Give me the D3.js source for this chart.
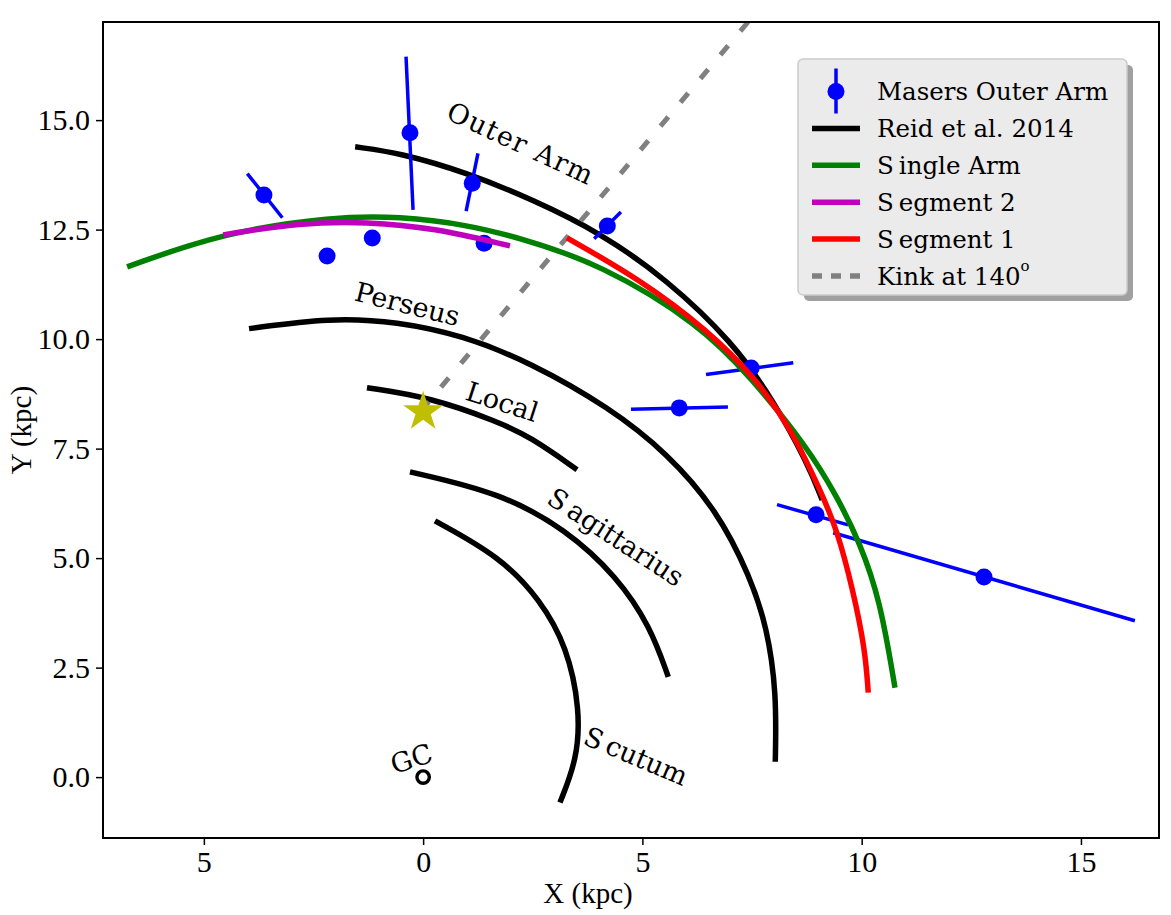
<!DOCTYPE html>
<html><head><meta charset="utf-8">
<script src="https://cdn.jsdelivr.net/npm/d3@7"></script>
<style>body{margin:0;background:#fff;} svg{display:block;}</style>
</head><body><svg id="c" width="1171" height="915"></svg>
<script>
// ---------------- data (kpc) ----------------
const xTicks = [-5, 0, 5, 10, 15];
const xTickLabels = ["5", "0", "5", "10", "15"];
const yTicks = [0, 2.5, 5, 7.5, 10, 12.5, 15];
const yTickLabels = ["0.0", "2.5", "5.0", "7.5", "10.0", "12.5", "15.0"];

// Reid et al. 2014 arms
const outerArm = [[-1.55,14.39],[-0.52,14.25],[1.00,13.80],[2.51,13.18],[4.04,12.43],[5.56,11.36],[7.07,9.92],[7.98,8.61],[8.76,7.18],[9.10,6.33]];
const perseusArm = [[-3.97,10.24],[-2.12,10.49],[-0.59,10.40],[0.91,10.08],[2.44,9.47],[4.26,8.43],[5.56,7.40],[6.70,6.10],[7.46,4.57],[7.84,3.43],[8.06,1.93],[8.03,0.35]];
const localArm = [[-1.28,8.89],[0.16,8.67],[1.69,8.12],[2.44,7.77],[3.51,7.02]];
const sagittariusArm = [[-0.30,6.97],[1.76,6.49],[3.25,5.66],[4.42,4.58],[5.18,3.44],[5.59,2.29]];
const scutumArm = [[0.27,5.85],[1.76,5.03],[2.67,4.05],[3.28,2.98],[3.58,1.54],[3.51,0.40],[3.12,-0.58]];

// fits
const singleArm = [[-6.75,11.65],[-4.56,12.43],[-2.05,12.80],[-0.52,12.80],[1.00,12.61],[2.21,12.31],[4.04,11.72],[6.32,10.33],[7.46,9.14],[8.76,7.54],[9.44,6.40],[9.96,5.35],[10.42,4.05],[10.76,2.04]];
const segment2 = [[-4.56,12.38],[-2.80,12.66],[-1.28,12.68],[0.23,12.54],[1.98,12.13]];
const segment1 = [[3.28,12.31],[4.95,11.36],[6.48,10.21],[7.62,9.07],[8.44,7.86],[9.05,6.56],[9.44,5.65],[9.80,4.28],[10.08,2.91],[10.15,1.93]];

// kink line (top end -> near Sun)
const kinkLine = [[7.41,17.24],[0.0,8.42]];

// masers: position and error-bar end points
const maserX  = [-3.63, -2.19, -1.16, -0.30, 1.12, 1.39, 4.20, 5.84, 7.48, 8.96, 12.79];
const maserY  = [13.29, 11.90, 12.31, 14.71, 13.56, 12.19, 12.58, 8.43, 9.34, 5.99, 4.57];
const errX1   = [-4.01, -2.22, -1.18, -0.39, 1.25, 1.40, 4.51, 4.74, 6.45, 8.07, 9.35];
const errY1   = [13.78, 11.95, 12.42, 16.45, 14.24, 12.25, 12.90, 8.40, 9.19, 6.22, 5.58];
const errX2   = [-3.21, -2.16, -1.14, -0.23, 0.98, 1.38, 3.90, 6.95, 8.44, 9.69, 16.23];
const errY2   = [12.77, 11.85, 12.20, 12.95, 12.92, 12.13, 12.29, 8.45, 9.46, 5.76, 3.57];

const sun = [0, 8.34];
const gc = [0, 0];

const armLabels = ["Outer Arm", "Perseus", "Local", "Sagittarius", "Scutum", "GC"];
const armLabelX = [2.23, -0.36, 1.80, 4.40, 4.86, -0.27];
const armLabelY = [14.47, 10.80, 8.57, 5.49, 0.49, 0.42];
const armLabelAngle = [25, 14, 18, 33, 23, -18];

const legendLabels = ["Masers Outer Arm", "Reid et al. 2014", "Single Arm", "Segment 2", "Segment 1", "Kink at 140"];

// ---------------- layout ----------------
const W = 1171, H = 915;
const margin = {left: 103, right: 12, top: 22, bottom: 77};
const svg = d3.select("#c");
const x = d3.scaleLinear().domain([-7.30, 16.78]).range([margin.left, W - margin.right]);
const y = d3.scaleLinear().domain([-1.39, 17.24]).range([H - margin.bottom, margin.top]);

const tickFont = "'Liberation Serif', 'Times New Roman', serif";
const textFont = "'DejaVu Serif', serif";

svg.append("defs").append("clipPath").attr("id", "clip")
  .append("rect").attr("x", margin.left).attr("y", margin.top)
  .attr("width", W - margin.left - margin.right).attr("height", H - margin.top - margin.bottom);

const plot = svg.append("g").attr("clip-path", "url(#clip)");
const line = d3.line().x(d => x(d[0])).y(d => y(d[1])).curve(d3.curveBasis);

// Reid arms
[outerArm, perseusArm, localArm, sagittariusArm, scutumArm].forEach(a => {
  plot.append("path").attr("d", line(a)).attr("fill", "none")
    .attr("stroke", "#000").attr("stroke-width", 5.5);
});

// kink
plot.append("path").attr("d", d3.line().x(d => x(d[0])).y(d => y(d[1]))(kinkLine))
  .attr("fill", "none").attr("stroke", "#808080").attr("stroke-width", 5)
  .attr("stroke-dasharray", "12,19");

// masers
const masers = maserX.map((v, i) => ({x: v, y: maserY[i], x1: errX1[i], y1: errY1[i], x2: errX2[i], y2: errY2[i]}));
plot.selectAll(".err").data(masers).enter().append("line")
  .attr("x1", d => x(d.x1)).attr("y1", d => y(d.y1))
  .attr("x2", d => x(d.x2)).attr("y2", d => y(d.y2))
  .attr("stroke", "#0000ff").attr("stroke-width", 3.5);
plot.selectAll(".dot").data(masers).enter().append("circle")
  .attr("cx", d => x(d.x)).attr("cy", d => y(d.y)).attr("r", 8.5).attr("fill", "#0000ff");

// fits
plot.append("path").attr("d", line(singleArm)).attr("fill", "none").attr("stroke", "#008000").attr("stroke-width", 5.5);
plot.append("path").attr("d", line(segment2)).attr("fill", "none").attr("stroke", "#bf00bf").attr("stroke-width", 5.5);
plot.append("path").attr("d", line(segment1)).attr("fill", "none").attr("stroke", "#ff0000").attr("stroke-width", 5.5);

// sun star & GC
plot.append("path").attr("d", d3.symbol().type(d3.symbolStar).size(21 * 21 / 0.8908130915292852)())
  .attr("transform", `translate(${x(sun[0])},${y(sun[1])})`).attr("fill", "#bfbf00");
plot.append("circle").attr("cx", x(gc[0])).attr("cy", y(gc[1])).attr("r", 6.2)
  .attr("fill", "#fff").attr("stroke", "#000").attr("stroke-width", 3.4);

// arm labels
armLabels.forEach((t, i) => {
  const tx = svg.append("text")
    .attr("transform", `translate(${x(armLabelX[i])},${y(armLabelY[i])}) rotate(${armLabelAngle[i]})`)
    .attr("text-anchor", "middle").attr("dominant-baseline", "central")
    .attr("font-family", textFont).attr("font-size", 27).attr("fill", "#000");
  if (t.startsWith("S")) {
    tx.append("tspan").text("S");
    tx.append("tspan").attr("dx", 5).text(t.slice(1));
  } else {
    tx.text(t);
    if (t === "Outer Arm") tx.attr("letter-spacing", 1.5);
  }
});

// frame
svg.append("rect").attr("x", margin.left).attr("y", margin.top)
  .attr("width", W - margin.left - margin.right).attr("height", H - margin.top - margin.bottom)
  .attr("fill", "none").attr("stroke", "#000").attr("stroke-width", 2);

// axes
const gx = svg.append("g").attr("transform", `translate(0,${H - margin.bottom})`)
  .call(d3.axisBottom(x).tickValues(xTicks).tickFormat((d, i) => xTickLabels[i]).tickSize(7).tickPadding(6));
const gy = svg.append("g").attr("transform", `translate(${margin.left},0)`)
  .call(d3.axisLeft(y).tickValues(yTicks).tickFormat((d, i) => yTickLabels[i]).tickSize(7).tickPadding(6));
[gx, gy].forEach(g => {
  g.select(".domain").remove();
  g.selectAll(".tick line").attr("stroke", "#000").attr("stroke-width", 1.5);
  g.selectAll(".tick text").attr("font-family", tickFont).attr("font-size", 30).attr("fill", "#000");
});

svg.append("text").attr("x", 588).attr("y", 903).attr("text-anchor", "middle")
  .attr("font-family", tickFont).attr("font-size", 29).text("X (kpc)");
svg.append("text").attr("transform", `translate(31,${(margin.top + H - margin.bottom) / 2}) rotate(-90)`)
  .attr("text-anchor", "middle").attr("font-family", tickFont).attr("font-size", 29).text("Y (kpc)");

// legend
const lg = svg.append("g");
const lx = 798, ly = 59, lw = 329, lh = 236;
lg.append("rect").attr("x", lx + 6).attr("y", ly + 6).attr("width", lw).attr("height", lh).attr("rx", 5).attr("fill", "#a0a0a0");
lg.append("rect").attr("x", lx).attr("y", ly).attr("width", lw).attr("height", lh).attr("rx", 5)
  .attr("fill", "#ebebeb").attr("stroke", "#cccccc").attr("stroke-width", 1.5);
const rowY = i => 91.5 + i * 36.9;
const hx1 = 812, hx2 = 860, tx0 = 877;
// row 0: errorbar marker
lg.append("line").attr("x1", (hx1 + hx2) / 2).attr("x2", (hx1 + hx2) / 2).attr("y1", rowY(0) - 23).attr("y2", rowY(0) + 22)
  .attr("stroke", "#0000ff").attr("stroke-width", 3.5);
lg.append("circle").attr("cx", (hx1 + hx2) / 2).attr("cy", rowY(0)).attr("r", 8.5).attr("fill", "#0000ff");
const legColors = [null, "#000", "#008000", "#bf00bf", "#ff0000", "#808080"];
for (let i = 1; i < 6; i++) {
  lg.append("line").attr("x1", hx1).attr("x2", hx2).attr("y1", rowY(i)).attr("y2", rowY(i))
    .attr("stroke", legColors[i]).attr("stroke-width", 5.5)
    .attr("stroke-dasharray", i === 5 ? "10,9" : null);
}
legendLabels.forEach((t, i) => {
  const tt = lg.append("text").attr("x", tx0).attr("y", rowY(i)).attr("dominant-baseline", "central")
    .attr("font-family", textFont).attr("font-size", 24.5).attr("fill", "#000");
  if (t.startsWith("S")) {
    tt.append("tspan").text("S");
    tt.append("tspan").attr("dx", 5).text(t.slice(1));
  } else if (i === 5) {
    tt.append("tspan").text(t);
    tt.append("tspan").attr("font-size", 15).attr("dy", -10).text("o");
  } else {
    tt.text(t);
  }
});
</script>
</body></html>
